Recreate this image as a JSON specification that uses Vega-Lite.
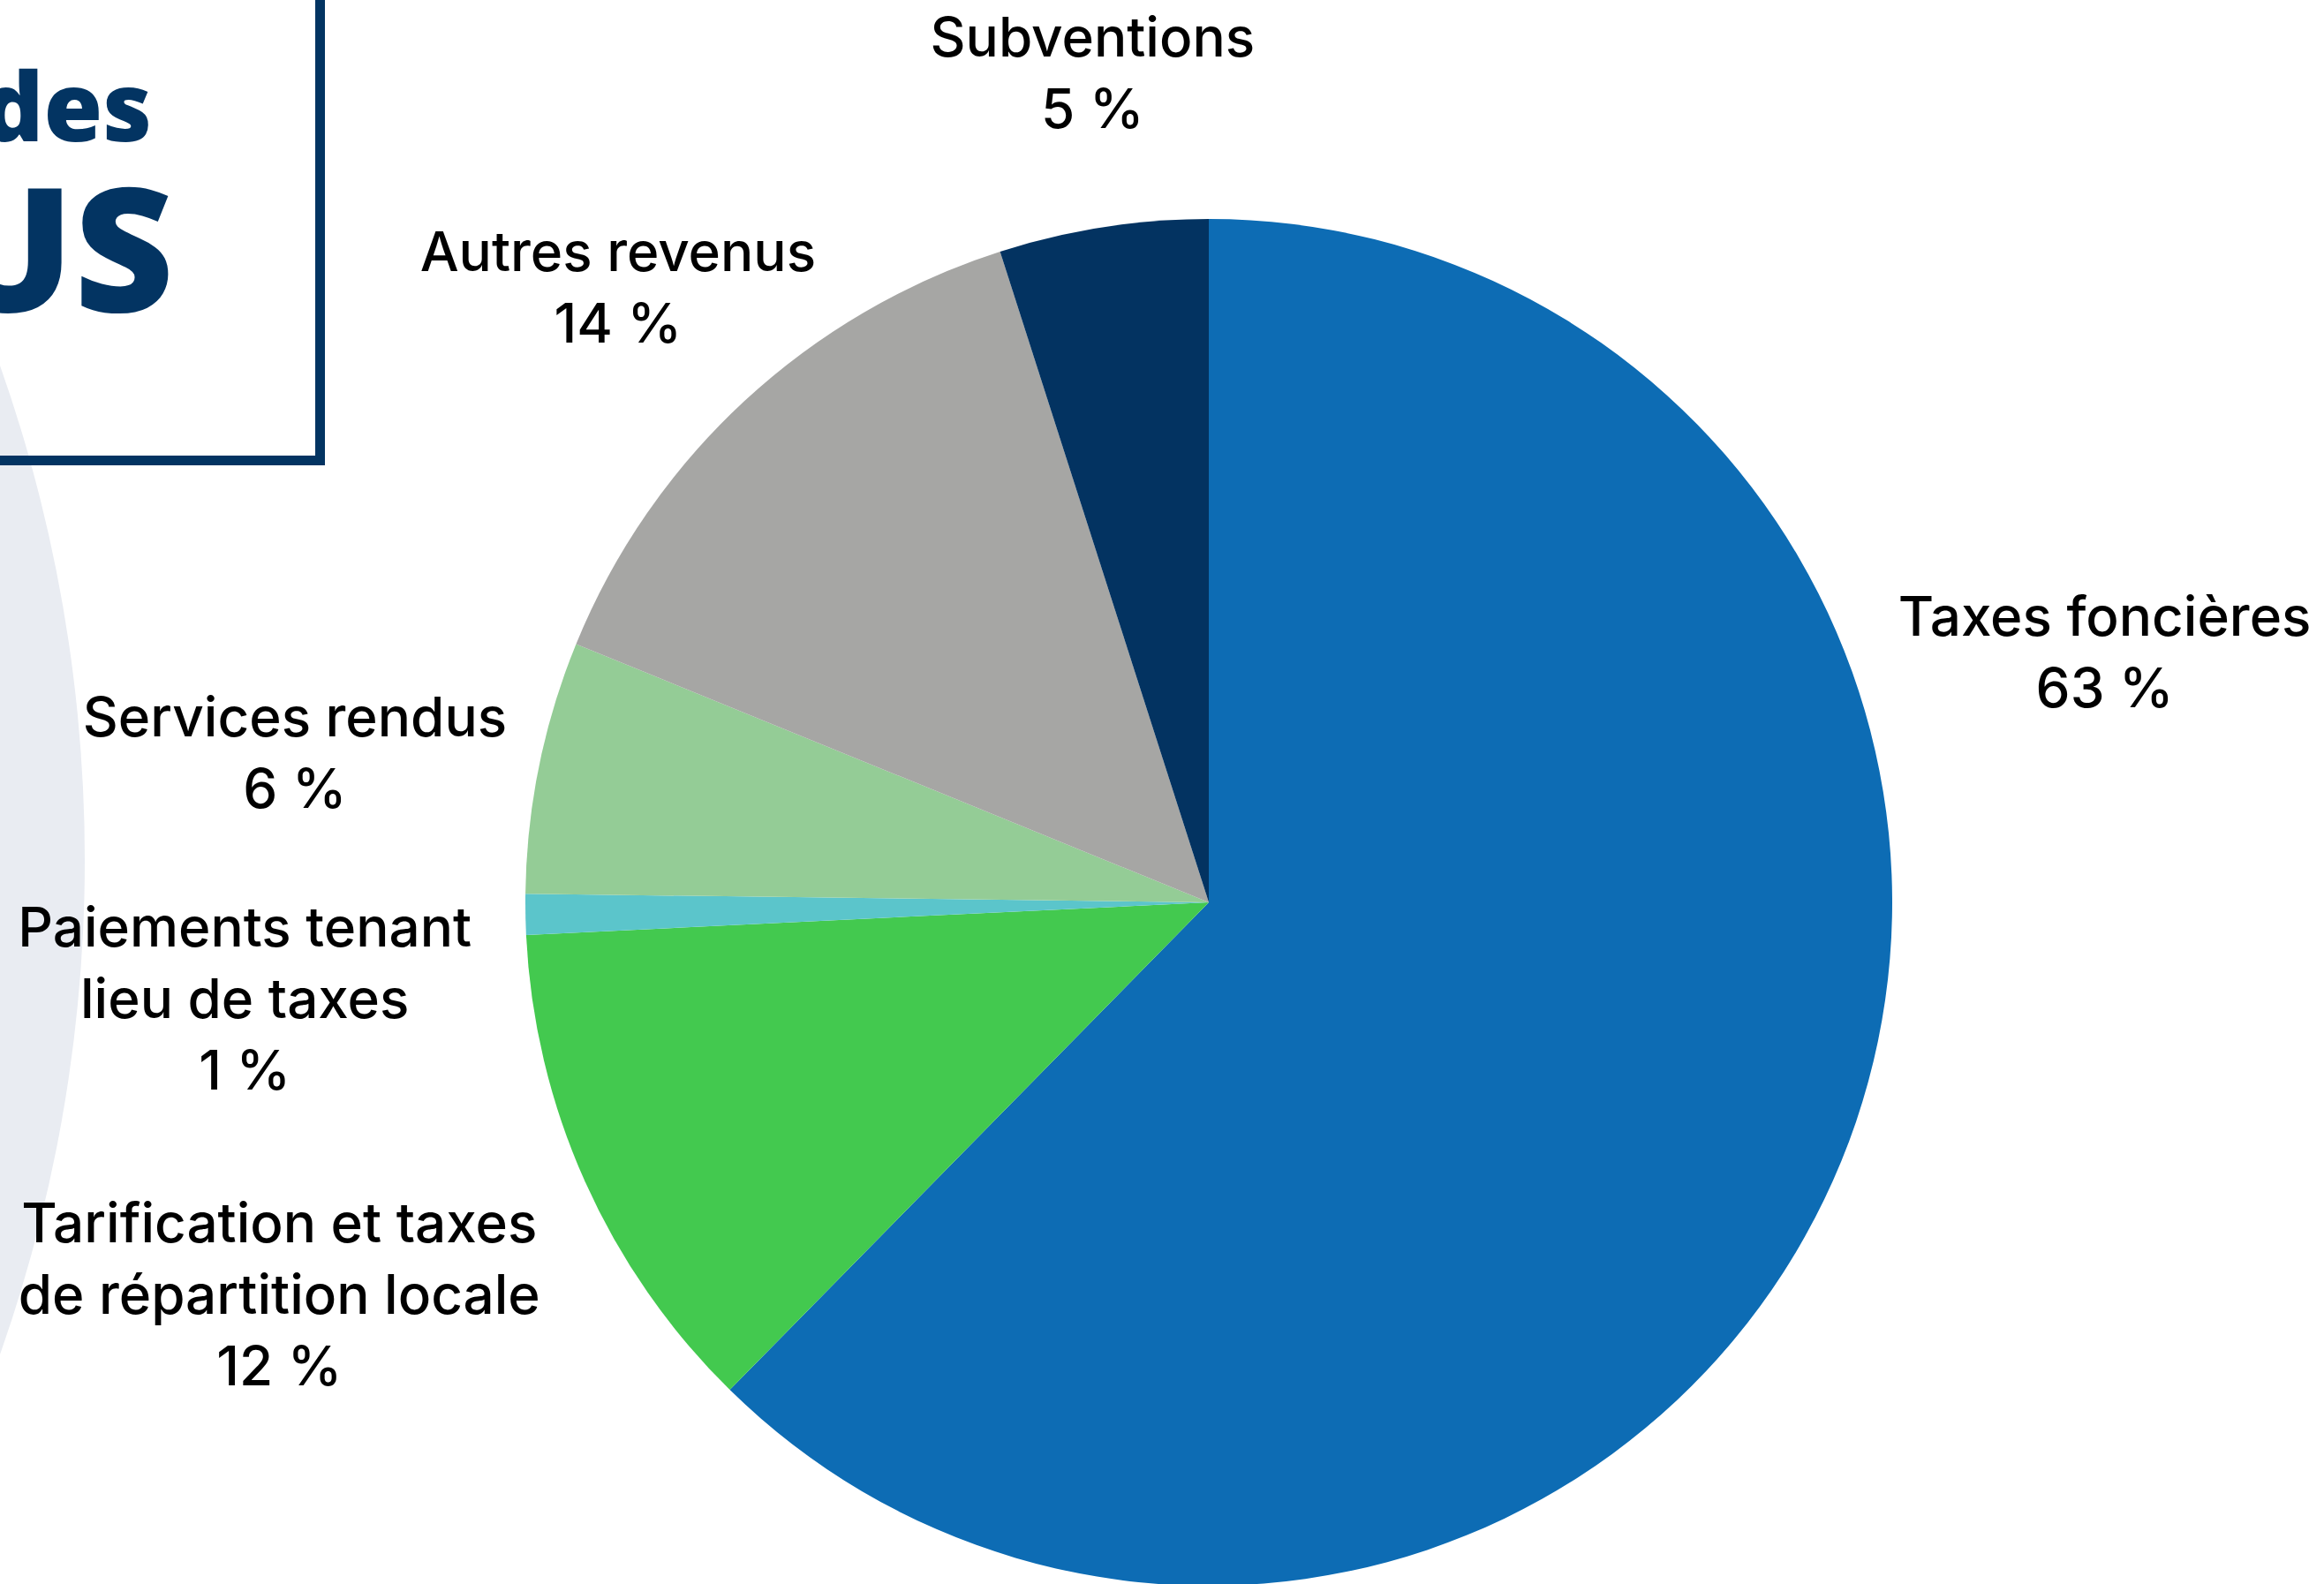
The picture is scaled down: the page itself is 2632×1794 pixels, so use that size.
{
  "$schema": "https://vega.github.io/schema/vega-lite/v6.json",
  "width": 2738,
  "height": 2044,
  "autosize": {"type": "none"},
  "padding": 0,
  "background": "#ffffff",
  "config": {"view": {"stroke": null}},
  "datasets": {
    "revenus": [
      {"cat": "Taxes foncières", "ordre": 1, "valeur": 62.36, "label": ["Taxes foncières", "63 %"]},
      {"cat": "Tarification et taxes de répartition locale", "ordre": 2, "valeur": 11.88, "label": ["Tarification et taxes", "de répartition locale", "12 %"]},
      {"cat": "Paiements tenant lieu de taxes", "ordre": 3, "valeur": 0.96, "label": ["Paiements tenant", "lieu de taxes", "1 %"]},
      {"cat": "Services rendus", "ordre": 4, "valeur": 5.97, "label": ["Services rendus", "6 %"]},
      {"cat": "Autres revenus", "ordre": 5, "valeur": 13.89, "label": ["Autres revenus", "14 %"]},
      {"cat": "Subventions", "ordre": 6, "valeur": 4.94, "label": ["Subventions", "5 %"]}
    ],
    "deco": [{"id": 1}]
  },
  "data": {"name": "revenus"},
  "layer": [
    {
      "data": {"name": "deco"},
      "mark": {"type": "arc", "x": -1585, "y": 974, "radius": 1681, "theta": 0, "theta2": 6.2832, "fill": "#E9ECF2"},
      "encoding": {}
    },
    {
      "data": {"name": "deco"},
      "mark": {"type": "rect", "x": -40, "y": -40, "x2": 362.5, "y2": 521.5, "fillOpacity": 0, "stroke": "#033462", "strokeWidth": 11},
      "encoding": {}
    },
    {
      "data": {"name": "deco"},
      "mark": {"type": "text", "x": 172, "y": 160, "text": "des", "align": "right", "baseline": "alphabetic", "font": "Open Sans", "fontWeight": 800, "fontSize": 108, "fill": "#033462"},
      "encoding": {}
    },
    {
      "data": {"name": "deco"},
      "mark": {"type": "text", "x": 197, "y": 353, "text": "US", "align": "right", "baseline": "alphabetic", "font": "Open Sans", "fontWeight": 800, "fontSize": 196, "fill": "#033462"},
      "encoding": {}
    },
    {
      "mark": {"type": "arc", "radius": 774},
      "encoding": {
        "theta": {"field": "valeur", "type": "quantitative", "stack": true},
        "order": {"field": "ordre", "type": "quantitative"},
        "color": {
          "field": "cat", "type": "nominal", "legend": null,
          "scale": {
            "domain": ["Taxes foncières", "Tarification et taxes de répartition locale", "Paiements tenant lieu de taxes", "Services rendus", "Autres revenus", "Subventions"],
            "range": ["#0D6CB4", "#43C94F", "#5BC5CB", "#94CC96", "#A6A6A4", "#033361"]
          }
        }
      }
    },
    {
      "mark": {"type": "text", "radius": 1053, "dx": 40, "dy": -720, "font": "Inter", "fontWeight": 500, "fontSize": 62, "lineHeight": 81, "align": "center", "baseline": "middle", "fill": "#000000"},
      "encoding": {
        "theta": {"field": "valeur", "type": "quantitative", "stack": true},
        "order": {"field": "ordre", "type": "quantitative"},
        "detail": {"field": "cat", "type": "nominal"},
        "text": {"condition": {"test": "datum.ordre === 1", "field": "label"}, "value": ""}
      }
    },
    {
      "mark": {"type": "text", "radius": 1125, "dx": -26, "dy": -94, "font": "Inter", "fontWeight": 500, "fontSize": 62, "lineHeight": 81, "align": "center", "baseline": "middle", "fill": "#000000"},
      "encoding": {
        "theta": {"field": "valeur", "type": "quantitative", "stack": true},
        "order": {"field": "ordre", "type": "quantitative"},
        "detail": {"field": "cat", "type": "nominal"},
        "text": {"condition": {"test": "datum.ordre === 2", "field": "label"}, "value": ""}
      }
    },
    {
      "mark": {"type": "text", "radius": 1093, "dx": 1, "dy": 12, "font": "Inter", "fontWeight": 500, "fontSize": 62, "lineHeight": 81, "align": "center", "baseline": "middle", "fill": "#000000"},
      "encoding": {
        "theta": {"field": "valeur", "type": "quantitative", "stack": true},
        "order": {"field": "ordre", "type": "quantitative"},
        "detail": {"field": "cat", "type": "nominal"},
        "text": {"condition": {"test": "datum.ordre === 3", "field": "label"}, "value": ""}
      }
    },
    {
      "mark": {"type": "text", "radius": 1048, "dx": -8, "dy": 1, "font": "Inter", "fontWeight": 500, "fontSize": 62, "lineHeight": 81, "align": "center", "baseline": "middle", "fill": "#000000"},
      "encoding": {
        "theta": {"field": "valeur", "type": "quantitative", "stack": true},
        "order": {"field": "ordre", "type": "quantitative"},
        "detail": {"field": "cat", "type": "nominal"},
        "text": {"condition": {"test": "datum.ordre === 4", "field": "label"}, "value": ""}
      }
    },
    {
      "mark": {"type": "text", "radius": 966, "dx": -13, "dy": -25, "font": "Inter", "fontWeight": 500, "fontSize": 62, "lineHeight": 81, "align": "center", "baseline": "middle", "fill": "#000000"},
      "encoding": {
        "theta": {"field": "valeur", "type": "quantitative", "stack": true},
        "order": {"field": "ordre", "type": "quantitative"},
        "detail": {"field": "cat", "type": "nominal"},
        "text": {"condition": {"test": "datum.ordre === 5", "field": "label"}, "value": ""}
      }
    },
    {
      "mark": {"type": "text", "radius": 949, "dx": 15, "dy": -39, "font": "Inter", "fontWeight": 500, "fontSize": 62, "lineHeight": 81, "align": "center", "baseline": "middle", "fill": "#000000"},
      "encoding": {
        "theta": {"field": "valeur", "type": "quantitative", "stack": true},
        "order": {"field": "ordre", "type": "quantitative"},
        "detail": {"field": "cat", "type": "nominal"},
        "text": {"condition": {"test": "datum.ordre === 6", "field": "label"}, "value": ""}
      }
    }
  ]
}
